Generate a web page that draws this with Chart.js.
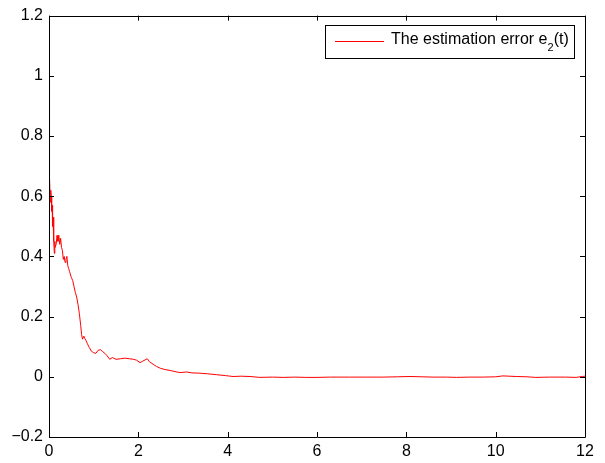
<!DOCTYPE html>
<html>
<head>
<meta charset="utf-8">
<script src="https://cdn.jsdelivr.net/npm/chart.js@4.4.1/dist/chart.umd.min.js"></script>
<style>
  html, body { margin: 0; padding: 0; background: #fff; }
  #wrap { width: 605px; height: 463px; }
</style>
</head>
<body>
<div id="wrap"><canvas id="myChart" width="605" height="463"></canvas></div>
<script>
// time axis (s)
const tValues = [
  0, 0.005, 0.01, 0.02, 0.03, 0.04, 0.05, 0.06, 0.07, 0.08,
  0.09, 0.1, 0.11, 0.12, 0.13, 0.14, 0.16, 0.18, 0.2, 0.22,
  0.24, 0.26, 0.28, 0.3, 0.32, 0.34, 0.36, 0.38, 0.4, 0.42,
  0.44, 0.46, 0.5, 0.53, 0.56, 0.59, 0.62, 0.65, 0.68, 0.71,
  0.73, 0.75, 0.78, 0.8, 0.83, 0.86, 0.9, 0.95, 1.0, 1.05,
  1.1, 1.15, 1.2, 1.25, 1.3, 1.36, 1.42, 1.5, 1.6, 1.7,
  1.8, 1.9, 1.96, 2.04, 2.1, 2.15, 2.2, 2.25, 2.33, 2.41,
  2.5, 2.6, 2.71, 2.8, 2.93, 3.08, 3.2, 3.38, 3.55, 3.75,
  3.95, 4.12, 4.3, 4.5, 4.72, 5.0, 5.24, 5.5, 5.75, 6.0,
  6.3, 6.73, 7.1, 7.48, 7.8, 8.08, 8.35, 8.6, 8.9, 9.12,
  9.4, 9.72, 10.0, 10.16, 10.46, 10.7, 10.9, 11.2, 11.57, 11.8,
  11.94, 12
];
// estimation error e2(t)
const e2Values = [
  1.0, 0.63, 0.6, 0.66, 0.58, 0.62, 0.6, 0.55, 0.57, 0.5,
  0.53, 0.49, 0.45, 0.41, 0.45, 0.43, 0.44, 0.47, 0.45, 0.47,
  0.44, 0.46, 0.43, 0.42, 0.39, 0.4, 0.38, 0.39, 0.4, 0.37,
  0.36, 0.35, 0.33, 0.32, 0.3, 0.28, 0.265, 0.24, 0.21, 0.17,
  0.14, 0.125, 0.135, 0.128, 0.12, 0.11, 0.098, 0.085, 0.08, 0.078,
  0.088, 0.09, 0.084, 0.078, 0.07, 0.058, 0.064, 0.058, 0.06, 0.062,
  0.06, 0.058, 0.055, 0.047, 0.052, 0.056, 0.06, 0.05, 0.042, 0.034,
  0.028, 0.024, 0.021, 0.018, 0.014, 0.016, 0.013, 0.012, 0.01, 0.007,
  0.004, 0.001, 0.002, 0.001, -0.002, -0.001, -0.002, -0.001, -0.002, -0.002,
  -0.001, -0.001, -0.001, -0.001, 0.0, 0.001, 0.0, -0.001, -0.001, -0.002,
  -0.001, -0.001, 0.0, 0.003, 0.001, 0.0, -0.002, -0.001, -0.001, -0.002,
  0.001, 0.002
];

const xTicks = [0, 2, 4, 6, 8, 10, 12];
const xTickLabels = ['0', '2', '4', '6', '8', '10', '12'];
const yTicks = [-0.2, 0, 0.2, 0.4, 0.6, 0.8, 1, 1.2];
const yTickLabels = ['\u22120.2', '0', '0.2', '0.4', '0.6', '0.8', '1', '1.2'];

const legendMain = 'The estimation error e';
const legendSub = '2';
const legendTail = '(t)';

const FONT = '"Liberation Sans", Arial, Helvetica, sans-serif';
const LINE_RED = 'rgb(255,0,0)';

// box, inward ticks and legend, matlab style
const matlabFrame = {
  id: 'matlabFrame',
  afterDraw(chart) {
    const ctx = chart.ctx;
    const a = chart.chartArea;
    const xs = chart.scales.x, ys = chart.scales.y;
    ctx.save();
    ctx.strokeStyle = '#000';
    ctx.lineWidth = 1;
    ctx.beginPath();
    ctx.rect(Math.round(a.left) + 0.5, Math.round(a.top) + 0.5,
             Math.round(a.right - a.left), Math.round(a.bottom - a.top));
    ctx.stroke();

    const tl = 5;
    ctx.beginPath();
    xTicks.forEach(v => {
      const px = Math.round(xs.getPixelForValue(v)) + 0.5;
      ctx.moveTo(px, a.bottom); ctx.lineTo(px, a.bottom - tl);
      ctx.moveTo(px, a.top); ctx.lineTo(px, a.top + tl);
    });
    yTicks.forEach(v => {
      const py = Math.round(ys.getPixelForValue(v)) + 0.5;
      ctx.moveTo(a.left, py); ctx.lineTo(a.left + tl, py);
      ctx.moveTo(a.right, py); ctx.lineTo(a.right - tl, py);
    });
    ctx.stroke();

    // legend
    const fs = 16, subFs = 11;
    ctx.font = fs + 'px ' + FONT;
    const wMain = ctx.measureText(legendMain).width;
    const wTail = ctx.measureText(legendTail).width;
    ctx.font = subFs + 'px ' + FONT;
    const wSub = ctx.measureText(legendSub).width;
    const lineLen = 49, gap = 7, padL = 10, padR = 5;
    const boxW = Math.round(padL + lineLen + gap + wMain + wSub + wTail + padR);
    const boxH = 33;
    const bx = Math.round(a.right - 11 - boxW);
    const by = Math.round(a.top + 9);
    ctx.fillStyle = '#fff';
    ctx.fillRect(bx, by, boxW, boxH);
    ctx.strokeStyle = '#000';
    ctx.strokeRect(bx + 0.5, by + 0.5, boxW, boxH);
    ctx.fillStyle = '#000';
    ctx.textBaseline = 'alphabetic';
    let tx = bx + padL + lineLen + gap;
    const base = by + 19;
    ctx.font = fs + 'px ' + FONT;
    ctx.fillText(legendMain, tx, base);
    tx += wMain;
    ctx.font = subFs + 'px ' + FONT;
    ctx.fillText(legendSub, tx, base + 7);
    tx += wSub;
    ctx.font = fs + 'px ' + FONT;
    ctx.fillText(legendTail, tx, base);
    // legend sample line, drawn last
    ctx.strokeStyle = LINE_RED;
    ctx.lineWidth = 1.2;
    ctx.beginPath();
    ctx.moveTo(bx + padL, by + 16.5);
    ctx.lineTo(bx + padL + lineLen, by + 16.5);
    ctx.stroke();
    ctx.restore();
  }
};

const ctx = document.getElementById('myChart').getContext('2d');
new Chart(ctx, {
  type: 'line',
  data: {
    datasets: [{
      label: legendMain + legendSub + legendTail,
      data: tValues.map((t, i) => ({ x: t, y: e2Values[i] })),
      borderColor: LINE_RED,
      backgroundColor: LINE_RED,
      borderWidth: 1,
      pointRadius: 0,
      tension: 0,
      fill: false
    }]
  },
  options: {
    responsive: false,
    animation: false,
    layout: { padding: { left: 0, right: 20, top: 15, bottom: 0 } },
    plugins: { legend: { display: false }, tooltip: { enabled: false } },
    scales: {
      x: {
        type: 'linear',
        min: 0, max: 12,
        afterFit: s => { s.height = 26; },
        afterBuildTicks: s => { s.ticks = xTicks.map(v => ({ value: v })); },
        grid: { display: false, drawTicks: false },
        border: { display: false },
        ticks: {
          padding: 5,
          maxRotation: 0,
          color: '#000',
          font: { family: FONT, size: 16 },
          callback: (v, i) => xTickLabels[i]
        }
      },
      y: {
        type: 'linear',
        min: -0.2, max: 1.2,
        afterFit: s => { s.width = 49; },
        afterBuildTicks: s => { s.ticks = yTicks.map(v => ({ value: v })); },
        grid: { display: false, drawTicks: false },
        border: { display: false },
        ticks: {
          padding: 6,
          color: '#000',
          font: { family: FONT, size: 16 },
          callback: (v, i) => yTickLabels[i]
        }
      }
    }
  },
  plugins: [matlabFrame]
});
</script>
</body>
</html>
